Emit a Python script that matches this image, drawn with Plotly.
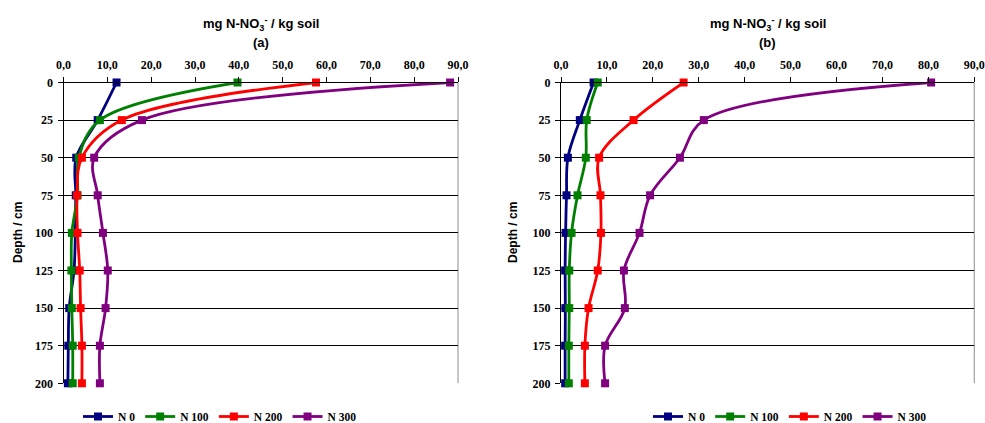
import plotly.graph_objects as go

depth = [0, 25, 50, 75, 100, 125, 150, 175, 200]
series_names = ["N 0", "N 100", "N 200", "N 300"]
colors = ["#000080", "#008000", "#FF0000", "#800080"]

# Panel (a)
a_n0 = [12.1, 7.8, 2.9, 2.8, 2.7, 2.4, 1.3, 1.1, 1.0]
a_n100 = [39.7, 8.3, 3.5, 3.2, 1.9, 1.8, 1.9, 2.1, 2.1]
a_n200 = [57.6, 13.3, 4.2, 3.1, 3.2, 3.7, 3.9, 4.2, 4.2]
a_n300 = [88.2, 17.9, 7.0, 7.8, 9.0, 10.1, 9.6, 8.3, 8.3]

# Panel (b)
b_n0 = [7.1, 4.1, 1.5, 1.2, 1.0, 0.9, 0.95, 0.9, 0.9]
b_n100 = [8.0, 5.6, 5.4, 3.6, 2.3, 1.8, 1.8, 1.7, 1.7]
b_n200 = [26.7, 15.8, 8.3, 8.6, 8.7, 8.0, 6.0, 5.2, 5.2]
b_n300 = [80.6, 31.1, 25.9, 19.4, 17.1, 13.7, 13.9, 9.6, 9.6]

x_tickvals = [0, 10, 20, 30, 40, 50, 60, 70, 80, 90]
x_ticktext = ["0,0", "10,0", "20,0", "30,0", "40,0", "50,0", "60,0", "70,0", "80,0", "90,0"]
y_tickvals = [0, 25, 50, 75, 100, 125, 150, 175, 200]

W, H = 985, 423
ML, MR, MT, MB = 40, 5, 70, 30
IW, IH = W - ML - MR, H - MT - MB
serif = "Liberation Serif"
sans = "Liberation Sans"

def px(xp):
    return (xp - ML) / IW

def py(yp):
    return (H - MB - yp) / IH

fig = go.Figure()

for vals, name, col in zip([a_n0, a_n100, a_n200, a_n300], series_names, colors):
    fig.add_trace(go.Scatter(
        x=vals, y=depth, name=name, mode="lines+markers",
        line=dict(color=col, width=2.8, shape="spline", smoothing=1.0),
        marker=dict(symbol="square", size=8, color=col),
        cliponaxis=False, xaxis="x", yaxis="y", legend="legend"))

for vals, name, col in zip([b_n0, b_n100, b_n200, b_n300], series_names, colors):
    fig.add_trace(go.Scatter(
        x=vals, y=depth, name=name, mode="lines+markers",
        line=dict(color=col, width=2.8, shape="spline", smoothing=1.0),
        marker=dict(symbol="square", size=8, color=col),
        cliponaxis=False, xaxis="x2", yaxis="y2", legend="legend2"))

ydom = [py(383.3), py(82.5)]
xdom1 = [px(63.5), px(458.0)]
xdom2 = [px(561.0), px(974.3)]

tf = dict(family=serif, size=12, color="black", weight="bold")

def xaxis(domain, anchor):
    return dict(domain=domain, anchor=anchor, side="top", range=[0, 90],
                tickvals=x_tickvals, ticktext=x_ticktext, tickfont=tf,
                showline=True, linecolor="black", linewidth=1,
                ticks="outside", ticklen=5, tickcolor="black", ticklabelstandoff=3,
                showgrid=False, zeroline=False, fixedrange=True, automargin=False)

def yaxis(anchor):
    return dict(domain=ydom, anchor=anchor, range=[200, 0],
                tickvals=y_tickvals, tickfont=tf,
                showline=True, linecolor="black", linewidth=1,
                ticks="outside", ticklen=5, tickcolor="black", ticklabelstandoff=2,
                showgrid=True, gridcolor="black", gridwidth=1,
                zeroline=False, fixedrange=True, automargin=False)

leg_common = dict(orientation="h", yref="container", yanchor="middle",
                  y=1 - 416.5 / H, xanchor="center",
                  font=dict(family=serif, size=11.5, color="black", weight="bold"),
                  bgcolor="rgba(0,0,0,0)", itemwidth=30, tracegroupgap=0)

fig.update_layout(
    width=W, height=H, autosize=False,
    margin=dict(l=ML, r=MR, t=MT, b=MB, pad=0),
    paper_bgcolor="white", plot_bgcolor="white",
    xaxis=xaxis(xdom1, "y"), yaxis=yaxis("x"),
    xaxis2=xaxis(xdom2, "y2"), yaxis2=yaxis("x2"),
    legend=dict(x=px(220), **leg_common),
    legend2=dict(x=px(790), **leg_common),
    showlegend=True,
)

# right border (gray)
for xr, yr in [("x domain", "y domain"), ("x2 domain", "y2 domain")]:
    fig.add_shape(type="line", xref=xr, yref=yr, x0=1, x1=1, y0=0, y1=1,
                  line=dict(color="#A0A0A0", width=1.2), layer="below")

title = "<b>mg N-NO<sub>3</sub><sup>-</sup> / kg soil</b>"
for cx, lab in [(260.7, "(a)"), (767.5, "(b)")]:
    fig.add_annotation(x=px(cx), y=py(24), xref="paper", yref="paper",
                       text=title, showarrow=False,
                       font=dict(family=sans, size=13, color="black"),
                       xanchor="center", yanchor="middle")
    fig.add_annotation(x=px(cx), y=py(42), xref="paper", yref="paper",
                       text="<b>" + lab + "</b>", showarrow=False,
                       font=dict(family=sans, size=13, color="black"),
                       xanchor="center", yanchor="middle")

for xx in [18, 513]:
    fig.add_annotation(x=px(xx), y=py(233), xref="paper", yref="paper",
                       text="<b>Depth / cm</b>", showarrow=False, textangle=-90,
                       font=dict(family=sans, size=12, color="black"),
                       xanchor="center", yanchor="middle")

fig.write_html("out.html", config={"displayModeBar": False},
               post_script="document.body.style.margin='0px';document.body.style.overflow='hidden';")
